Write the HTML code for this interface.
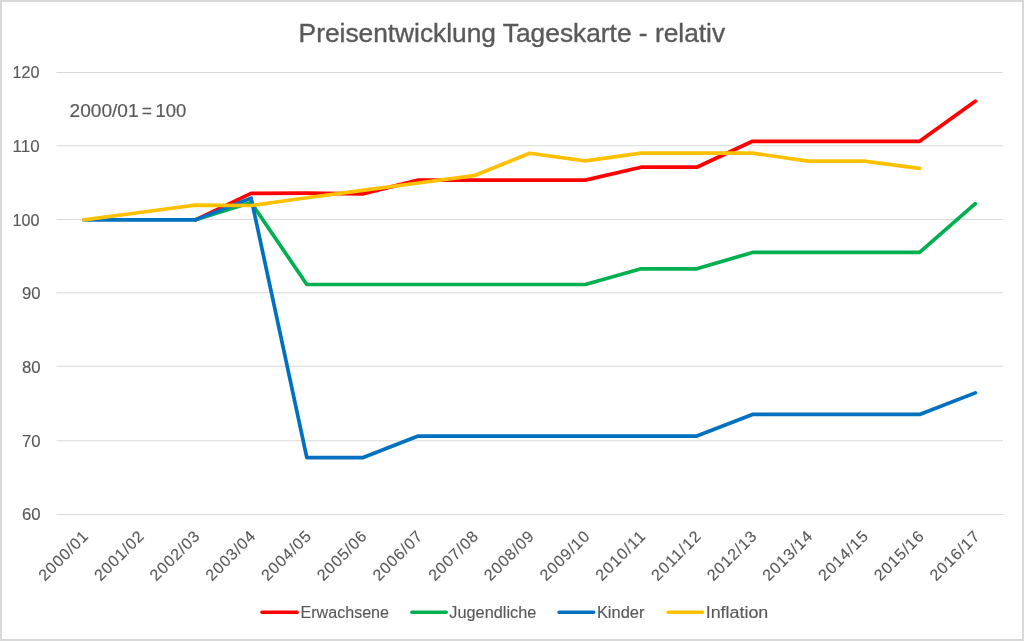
<!DOCTYPE html>
<html><head><meta charset="utf-8"><style>
html,body{margin:0;padding:0;background:#fff;}
body{width:1024px;height:641px;overflow:hidden;position:relative;}
.frame{position:absolute;left:0;top:0;width:1020px;height:637px;border:2px solid #D9D9D9;background:#fff;}
svg{position:absolute;left:0;top:0;will-change:transform;}
text{font-family:"Liberation Sans",sans-serif;stroke:#595959;stroke-width:0.15px;}
.ttl{stroke-width:0.35px;}
</style></head><body>
<div class="frame"></div>
<svg width="1024" height="641" viewBox="0 0 1024 641">
<rect x="56.5" y="72" width="946.5" height="1" fill="#D9D9D9"/>
<rect x="56.5" y="145.25" width="946.5" height="1" fill="#D9D9D9"/>
<rect x="56.5" y="218.9" width="946.5" height="1" fill="#D9D9D9"/>
<rect x="56.5" y="292.3" width="946.5" height="1" fill="#D9D9D9"/>
<rect x="56.5" y="365.75" width="946.5" height="1" fill="#D9D9D9"/>
<rect x="56.5" y="440.3" width="946.5" height="1" fill="#D9D9D9"/>
<rect x="56.5" y="514" width="946.5" height="1" fill="#D9D9D9"/>
<text x="39.6" y="78.0" text-anchor="end" font-size="16" fill="#595959" textLength="27.0" lengthAdjust="spacingAndGlyphs">120</text>
<text x="39.6" y="151.5" text-anchor="end" font-size="16" fill="#595959" textLength="27.0" lengthAdjust="spacingAndGlyphs">110</text>
<text x="39.6" y="225.5" text-anchor="end" font-size="16" fill="#595959" textLength="27.0" lengthAdjust="spacingAndGlyphs">100</text>
<text x="40.5" y="299.0" text-anchor="end" font-size="16" fill="#595959" textLength="18.6" lengthAdjust="spacingAndGlyphs">90</text>
<text x="40.5" y="372.5" text-anchor="end" font-size="16" fill="#595959" textLength="18.6" lengthAdjust="spacingAndGlyphs">80</text>
<text x="40.5" y="446.5" text-anchor="end" font-size="16" fill="#595959" textLength="18.6" lengthAdjust="spacingAndGlyphs">70</text>
<text x="40.5" y="520.0" text-anchor="end" font-size="16" fill="#595959" textLength="18.6" lengthAdjust="spacingAndGlyphs">60</text>
<polyline points="195.41,219.85 251.12,193.34 306.82,193.20 362.53,193.86 418.24,180.09 473.94,180.09 529.65,180.09 585.35,180.09 641.06,167.20 696.77,167.20 752.47,141.29 808.18,141.29 863.88,141.29 919.59,141.29 975.30,101.31" fill="none" stroke="#FF0000" stroke-width="3.7" stroke-linejoin="round" stroke-linecap="round"/>
<polyline points="195.41,219.85 251.12,202.55 306.82,284.50 362.53,284.50 418.24,284.50 473.94,284.50 529.65,284.50 585.35,284.50 641.06,268.81 696.77,268.81 752.47,252.47 808.18,252.47 863.88,252.47 919.59,252.47 975.30,203.65" fill="none" stroke="#00B050" stroke-width="3.7" stroke-linejoin="round" stroke-linecap="round"/>
<polyline points="84.00,219.85 139.71,219.85 195.41,219.85 251.12,198.13 306.82,457.67 362.53,457.67 418.24,436.03 473.94,436.03 529.65,436.03 585.35,436.03 641.06,436.03 696.77,436.03 752.47,414.45 808.18,414.45 863.88,414.45 919.59,414.45 975.30,392.88" fill="none" stroke="#0070C0" stroke-width="3.7" stroke-linejoin="round" stroke-linecap="round"/>
<polyline points="84.00,219.85 139.71,212.49 195.41,205.12 251.12,205.49 306.82,197.76 362.53,190.40 418.24,183.03 473.94,175.67 529.65,153.21 585.35,160.95 641.06,153.14 696.77,153.14 752.47,153.14 808.18,161.09 863.88,161.09 919.59,168.31" fill="none" stroke="#FFC000" stroke-width="3.7" stroke-linejoin="round" stroke-linecap="round"/>
<text class="ttl" x="298.6" y="42" font-size="25" fill="#595959" textLength="426.5" lengthAdjust="spacingAndGlyphs">Preisentwicklung Tageskarte - relativ</text>
<text x="69.6" y="117" font-size="17.5" fill="#595959" textLength="69" lengthAdjust="spacingAndGlyphs">2000/01</text>
<text x="141.8" y="117" font-size="17.5" fill="#595959">=</text>
<text x="155.5" y="117" font-size="17.5" fill="#595959" textLength="30.8" lengthAdjust="spacingAndGlyphs">100</text>
<text transform="translate(85.60,534) rotate(-45)" x="0" y="5" text-anchor="end" font-size="16" fill="#595959" textLength="62.5" lengthAdjust="spacing">2000/01</text>
<text transform="translate(141.31,534) rotate(-45)" x="0" y="5" text-anchor="end" font-size="16" fill="#595959" textLength="62.5" lengthAdjust="spacing">2001/02</text>
<text transform="translate(197.01,534) rotate(-45)" x="0" y="5" text-anchor="end" font-size="16" fill="#595959" textLength="62.5" lengthAdjust="spacing">2002/03</text>
<text transform="translate(252.72,534) rotate(-45)" x="0" y="5" text-anchor="end" font-size="16" fill="#595959" textLength="62.5" lengthAdjust="spacing">2003/04</text>
<text transform="translate(308.42,534) rotate(-45)" x="0" y="5" text-anchor="end" font-size="16" fill="#595959" textLength="62.5" lengthAdjust="spacing">2004/05</text>
<text transform="translate(364.13,534) rotate(-45)" x="0" y="5" text-anchor="end" font-size="16" fill="#595959" textLength="62.5" lengthAdjust="spacing">2005/06</text>
<text transform="translate(419.84,534) rotate(-45)" x="0" y="5" text-anchor="end" font-size="16" fill="#595959" textLength="62.5" lengthAdjust="spacing">2006/07</text>
<text transform="translate(475.54,534) rotate(-45)" x="0" y="5" text-anchor="end" font-size="16" fill="#595959" textLength="62.5" lengthAdjust="spacing">2007/08</text>
<text transform="translate(531.25,534) rotate(-45)" x="0" y="5" text-anchor="end" font-size="16" fill="#595959" textLength="62.5" lengthAdjust="spacing">2008/09</text>
<text transform="translate(586.95,534) rotate(-45)" x="0" y="5" text-anchor="end" font-size="16" fill="#595959" textLength="62.5" lengthAdjust="spacing">2009/10</text>
<text transform="translate(642.66,534) rotate(-45)" x="0" y="5" text-anchor="end" font-size="16" fill="#595959" textLength="62.5" lengthAdjust="spacing">2010/11</text>
<text transform="translate(698.37,534) rotate(-45)" x="0" y="5" text-anchor="end" font-size="16" fill="#595959" textLength="62.5" lengthAdjust="spacing">2011/12</text>
<text transform="translate(754.07,534) rotate(-45)" x="0" y="5" text-anchor="end" font-size="16" fill="#595959" textLength="62.5" lengthAdjust="spacing">2012/13</text>
<text transform="translate(809.78,534) rotate(-45)" x="0" y="5" text-anchor="end" font-size="16" fill="#595959" textLength="62.5" lengthAdjust="spacing">2013/14</text>
<text transform="translate(865.48,534) rotate(-45)" x="0" y="5" text-anchor="end" font-size="16" fill="#595959" textLength="62.5" lengthAdjust="spacing">2014/15</text>
<text transform="translate(921.19,534) rotate(-45)" x="0" y="5" text-anchor="end" font-size="16" fill="#595959" textLength="62.5" lengthAdjust="spacing">2015/16</text>
<text transform="translate(976.90,534) rotate(-45)" x="0" y="5" text-anchor="end" font-size="16" fill="#595959" textLength="62.5" lengthAdjust="spacing">2016/17</text>
<line x1="262.0" y1="612.3" x2="297.1" y2="612.3" stroke="#FF0000" stroke-width="3.5" stroke-linecap="round"/>
<text x="300.5" y="618" font-size="16" fill="#595959" textLength="88.5" lengthAdjust="spacingAndGlyphs">Erwachsene</text>
<line x1="411.9" y1="612.3" x2="446.2" y2="612.3" stroke="#00B050" stroke-width="3.5" stroke-linecap="round"/>
<text x="449.3" y="618" font-size="16" fill="#595959" textLength="87.0" lengthAdjust="spacingAndGlyphs">Jugendliche</text>
<line x1="559.1" y1="612.3" x2="593.6" y2="612.3" stroke="#0070C0" stroke-width="3.5" stroke-linecap="round"/>
<text x="596.9" y="618" font-size="16" fill="#595959" textLength="47.6" lengthAdjust="spacingAndGlyphs">Kinder</text>
<line x1="668.1" y1="612.3" x2="702.5" y2="612.3" stroke="#FFC000" stroke-width="3.5" stroke-linecap="round"/>
<text x="705.7" y="618" font-size="16" fill="#595959" textLength="62.6" lengthAdjust="spacingAndGlyphs">Inflation</text>
</svg>
</body></html>
